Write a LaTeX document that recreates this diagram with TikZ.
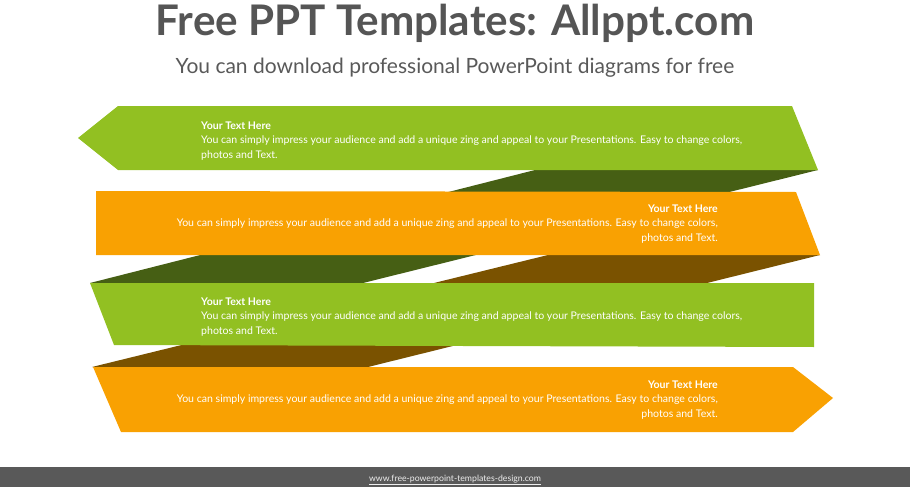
\documentclass[tikz,border=0pt]{standalone}
\usepackage{fontspec}
\setmainfont{Lato}
\usepackage{tikz}
\definecolor{leafgreen}{HTML}{92C022}
\definecolor{amber}{HTML}{F9A102}
\definecolor{olivedark}{HTML}{465F14}
\definecolor{umber}{HTML}{7A5200}
\definecolor{inkgray}{HTML}{555555}
\definecolor{barfill}{HTML}{595959}
\tikzset{
  bandtext/.style={text=white, font=\fontsize{10.55}{14.5}\selectfont, inner sep=0pt},
  headtext/.style={text=inkgray, inner sep=0pt}
}

\begin{document}
\begin{tikzpicture}[x=1pt,y=-1pt]
  \useasboundingbox (0,0) rectangle (910,487);

  \newcommand\body{You can simply impress your audience and add a unique zing and appeal to your Presentations. Easy to change colors,\\ photos and Text.}

  % title and subtitle
  \node[headtext, anchor=base, font=\fontsize{42.2}{48}\selectfont\bfseries] (title) at (455,36) {Free PPT Templates: Allppt.com};
  \node[headtext, anchor=base, font=\fontsize{21}{25}\selectfont, text=barfill] (subtitle) at (455,74) {You can download professional PowerPoint diagrams for free};

  % back sides of the ribbon
  \fill[olivedark] (535,170) -- (818,170) -- (363,283) -- (90,283) -- cycle;
  \fill[umber] (548,255) -- (820,255) -- (368,367) -- (92,367) -- cycle;

  % front bands
  \fill[leafgreen] (78,138) -- (118,106) -- (792,106) -- (818,170) -- (118,170) -- cycle;
  \fill[amber] (96,191) -- (796,192) -- (820,255) -- (96,255) -- cycle;
  \fill[leafgreen] (90,283) -- (814,283) -- (814,347) -- (114,345) -- cycle;
  \fill[amber] (93,367) -- (793,367) -- (833,398) -- (793,432) -- (121,432) -- cycle;

  % texts
  \node[bandtext, anchor=north west, align=left] (bandA) at (201,121.5) {\textbf{Your Text Here}\\ \body};
  \node[bandtext, anchor=north east, align=right] (bandB) at (718,204.5) {\textbf{Your Text Here}\\ \body};
  \node[bandtext, anchor=north west, align=left] (bandC) at (201,297.5) {\textbf{Your Text Here}\\ \body};
  \node[bandtext, anchor=north east, align=right] (bandD) at (718,380.5) {\textbf{Your Text Here}\\ \body};

  % footer
  \fill[barfill] (0,467) rectangle (910,487);
  \node[inner sep=0pt, anchor=base, text=white!90!barfill, font=\fontsize{8.7}{10}\selectfont] (footer) at (455,481) {\underline{www.free-powerpoint-templates-design.com}};
\end{tikzpicture}
\end{document}
